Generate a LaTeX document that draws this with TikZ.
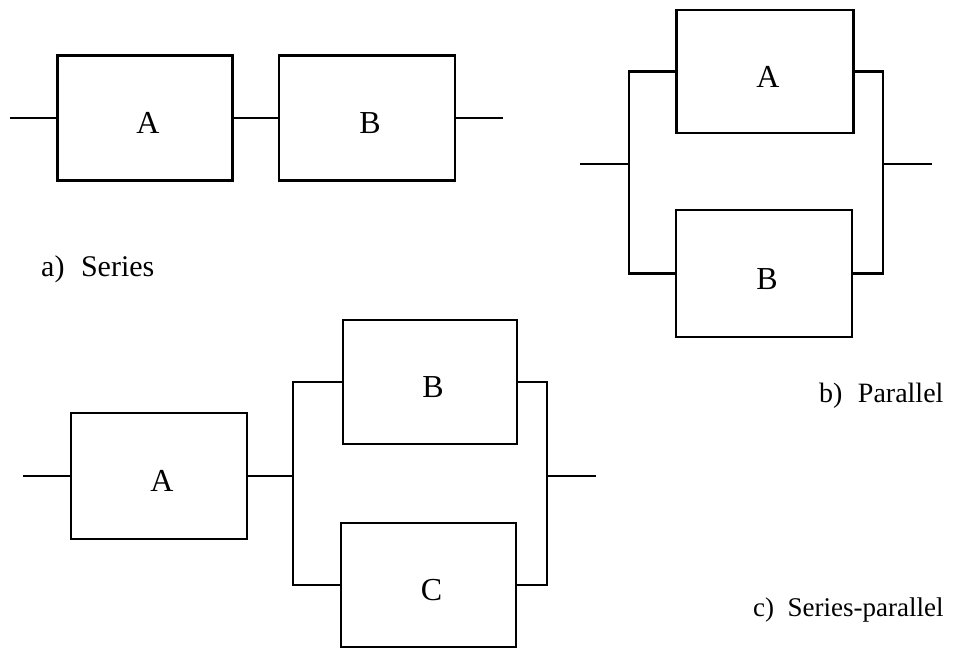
\documentclass[tikz,border=0pt]{standalone}
\usepackage{fontspec}
\setmainfont{Liberation Serif}
% block letter, set a little right of and below the block centre
\newcommand{\blkletter}[1]{\raisebox{-15.5pt}[0pt][0pt]{\hspace*{6pt}#1}}
\begin{document}
\begin{tikzpicture}[x=1pt,y=-1pt,
  wire/.style={line width=2.2pt,line join=miter},
  blk/.style={draw,line width=2.4pt,minimum width=175pt,minimum height=125pt,
    inner sep=0pt,font=\fontsize{32}{34}\selectfont},
  caption/.style={anchor=base west,inner sep=0pt,font=\fontsize{28}{30}\selectfont}]
\useasboundingbox (0,0) rectangle (956,648);

% a) series
\node[blk] (sA) at (145,118) {\blkletter{A}};
\node[blk,minimum width=176pt] (sB) at (367,118) {\blkletter{B}};
\coordinate (sin) at (10,118);
\coordinate (sout) at (503,118);
\draw[wire] (sin) -- (sA.west);
\draw[wire] (sA.east) -- (sB.west);
\draw[wire] (sB.east) -- (sout);
\node[caption,font=\fontsize{30}{32}\selectfont] (la) at (41,276) {a)\hspace{0.55em}Series};

% b) parallel
\node[blk,minimum width=177pt,minimum height=123pt] (pA) at (765,71.5) {\blkletter{A}};
\node[blk,minimum width=176pt,minimum height=127pt] (pB) at (764,273.5) {\blkletter{B}};
\coordinate (pin) at (580,164);
\coordinate (pl) at (629,164);
\coordinate (pr) at (883,164);
\coordinate (pout) at (932,164);
\draw[wire] (pin) -- (pl);
\draw[wire] (pA.west) -| (pl) |- (pB.west);
\draw[wire] (pA.east) -| (pr) |- (pB.east);
\draw[wire] (pr) -- (pout);
\node[caption] (lb) at (819,402) {b)\hspace{0.55em}Parallel};

% c) series-parallel
\node[blk,minimum width=176pt,minimum height=126pt] (cA) at (159,476) {\blkletter{A}};
\node[blk,minimum width=174pt,minimum height=124pt] (cB) at (430,382) {\blkletter{B}};
\node[blk,minimum width=175pt,minimum height=124pt] (cC) at (428.5,585) {\blkletter{C}};
\coordinate (cin) at (23,476);
\coordinate (cl) at (293,476);
\coordinate (cr) at (547,476);
\coordinate (cout) at (596,476);
\draw[wire] (cin) -- (cA.west);
\draw[wire] (cA.east) -- (cl);
\draw[wire] (cB.west) -| (cl) |- (cC.west);
\draw[wire] (cB.east) -| (cr) |- (cC.east);
\draw[wire] (cr) -- (cout);
\node[caption,font=\fontsize{27}{29}\selectfont] (lc) at (753,616) {c)\hspace{0.5em}Series-parallel};
\end{tikzpicture}
\end{document}
